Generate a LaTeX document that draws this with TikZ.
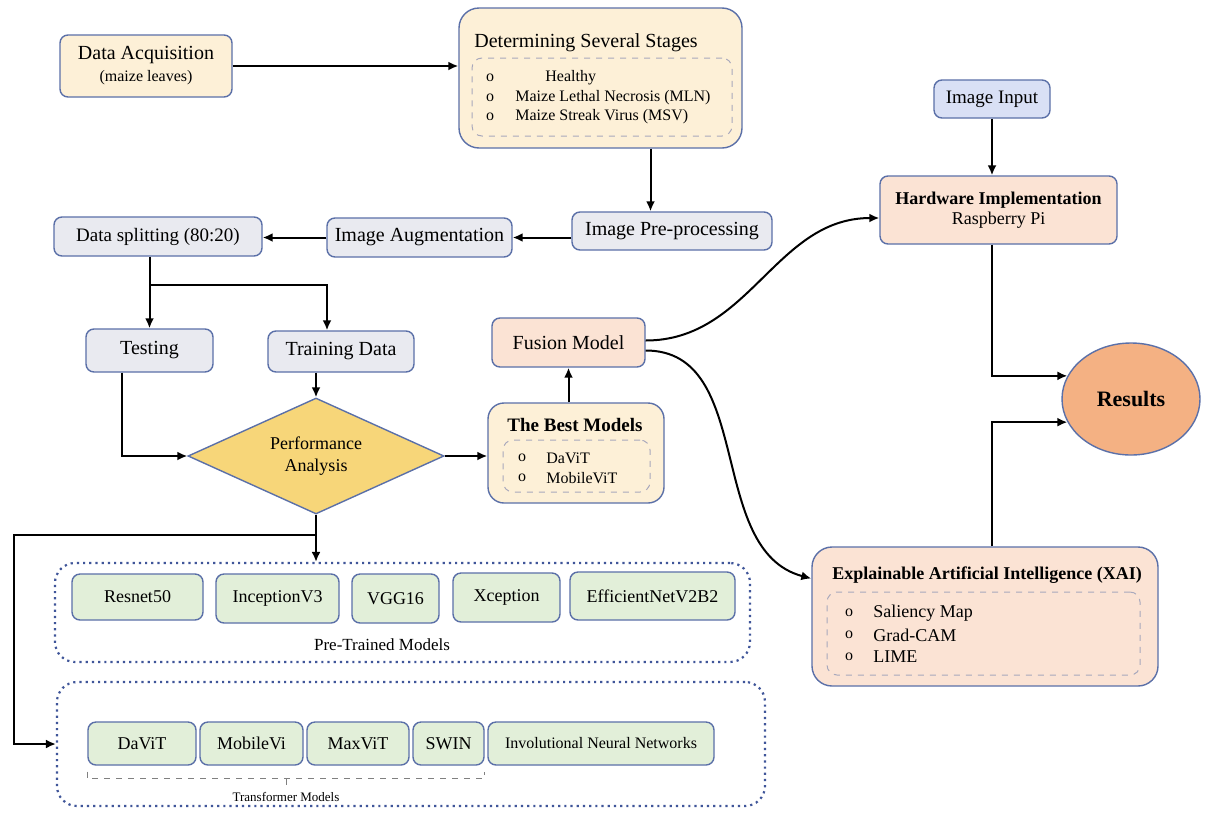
\documentclass[tikz,border=0pt]{standalone}
\usepackage{fontspec}
\setmainfont{Liberation Serif}
\usetikzlibrary{arrows.meta,shapes.geometric,positioning}

\definecolor{edgeblue}{HTML}{5B70A8}
\definecolor{cream}{HTML}{FDF0D7}
\definecolor{greyblue}{HTML}{E9EAF0}
\definecolor{peach}{HTML}{FBE3D4}
\definecolor{gold}{HTML}{F7D679}
\definecolor{mint}{HTML}{E2EFD9}
\definecolor{lavender}{HTML}{D9E0F5}
\definecolor{resorange}{HTML}{F4B183}
\definecolor{dashgrey}{HTML}{A8A8BC}
\definecolor{dotblue}{HTML}{3F5599}

\tikzset{
  box/.style={draw=edgeblue, line width=0.7pt, rounded corners=4pt, inner sep=0pt, align=center, font=\fontsize{10}{12}\selectfont},
  creambox/.style={box, fill=cream},
  greybox/.style={box, fill=greyblue},
  peachbox/.style={box, fill=peach},
  modelbox/.style={box, fill=mint, font=\fontsize{9}{11}\selectfont},
  innerbox/.style={draw=dashgrey, dashed, line width=0.5pt, rounded corners=5pt},
  groupbox/.style={draw=dotblue, dotted, line width=1.1pt, rounded corners=10pt},
  listitem/.style={inner sep=0pt, font=\fontsize{8}{10}\selectfont},
  heading/.style={inner sep=0pt, font=\bfseries\fontsize{9}{11}\selectfont},
  arr/.style={line width=1pt, -{Latex[length=5pt,width=4.5pt]}},
}

\begin{document}
\begin{tikzpicture}[x=0.5pt, y=-0.5pt]
    \fill[white] (0,0) rectangle (1208,814);
    \useasboundingbox (0,0) rectangle (1208,814);

    % data and stages
    \node[creambox, minimum width=86pt, minimum height=31pt] (acq) at (146,66) {Data Acquisition\\[-1pt]{\fontsize{8}{10}\selectfont (maize leaves)}};
    \node[creambox, rounded corners=10pt, minimum width=141.5pt, minimum height=70pt] (stages) at (600.5,78) {};
    \node[inner sep=0pt, font=\fontsize{10}{12}\selectfont] (stagestitle) at (586,43) {Determining Several Stages};
    \node[innerbox, minimum width=130pt, minimum height=39pt] (stagelist) at (602,97) {};
    \node[listitem] (sb1) at (490,78) {o};
    \node[listitem] (sb2) at (490,98) {o};
    \node[listitem] (sb3) at (490,117) {o};
    \node[listitem, anchor=west] (st1) at (545,78) {Healthy};
    \node[listitem, anchor=west] (st2) at (515,98) {Maize Lethal Necrosis (MLN)};
    \node[listitem, anchor=west] (st3) at (515,117) {Maize Streak Virus (MSV)};

    % preprocessing chain
    \node[greybox, minimum width=100pt, minimum height=19pt] (imgpre) at (672,231) {Image Pre-processing};
    \node[greybox, minimum width=92.5pt, minimum height=19.5pt] (imgaug) at (419.5,237.5) {Image Augmentation};
    \node[greybox, minimum width=104pt, minimum height=19.5pt, font=\fontsize{9.5}{11}\selectfont] (split) at (158,236.5) {Data splitting (80:20)};
    \node[greybox, minimum width=63.5pt, minimum height=21.5pt] (testing) at (149.5,350.5) {Testing};
    \node[greybox, minimum width=73pt, minimum height=20.5pt] (training) at (341,351.5) {Training Data};
    \coordinate (fork) at (150,285);

    % analysis
    \node[diamond, draw=edgeblue, fill=gold, line width=0.7pt, aspect=2.2, inner sep=0pt, minimum width=128pt, minimum height=58pt, align=center, font=\fontsize{9}{11}\selectfont] (perf) at (316,456) {Performance\\Analysis};
    \node[creambox, rounded corners=8pt, minimum width=88pt, minimum height=50pt] (best) at (576,453) {};
    \node[heading, font=\bfseries\fontsize{9.5}{11}\selectfont] (besttitle) at (575,425) {The Best Models};
    \node[innerbox, minimum width=73.5pt, minimum height=26pt] (bestlist) at (576.5,466) {};
    \node[listitem] (bb1) at (522,458) {o};
    \node[listitem] (bb2) at (522,478) {o};
    \node[listitem, anchor=west] (bt1) at (546,458) {DaViT};
    \node[listitem, anchor=west] (bt2) at (546,478) {MobileViT};
    \node[peachbox, minimum width=76.5pt, minimum height=24.5pt] (fusion) at (568.5,342.5) {Fusion Model};

    % right side
    \node[box, fill=lavender, minimum width=58pt, minimum height=19pt, font=\fontsize{9.5}{11}\selectfont] (imginput) at (992,99) {Image Input};
    \node[peachbox, minimum width=118.5pt, minimum height=34pt, font=\fontsize{9}{11}\selectfont] (hw) at (998.5,210) {\textbf{Hardware Implementation}\\[-1pt]Raspberry Pi};
    \node[ellipse, draw=edgeblue, fill=resorange, line width=0.7pt, inner sep=0pt, minimum width=69pt, minimum height=56pt, font=\bfseries\fontsize{11}{13}\selectfont] (results) at (1131,399) {Results};
    \node[peachbox, rounded corners=10pt, minimum width=173pt, minimum height=69.5pt] (xai) at (985,616.5) {};
    \node[heading] (xaititle) at (987,575) {Explainable Artificial Intelligence (XAI)};
    \node[innerbox, minimum width=156.5pt, minimum height=41.5pt] (xailist) at (983.5,633.5) {};
    \node[listitem] (xb1) at (849,613) {o};
    \node[listitem] (xb2) at (849,635) {o};
    \node[listitem] (xb3) at (849,657) {o};
    \node[listitem, anchor=west, font=\fontsize{9}{11}\selectfont] (xt1) at (873,613) {Saliency Map};
    \node[listitem, anchor=west, font=\fontsize{9}{11}\selectfont] (xt2) at (873,635) {Grad-CAM};
    \node[listitem, anchor=west, font=\fontsize{9}{11}\selectfont] (xt3) at (873,657) {LIME};

    % pre-trained models
    \node[groupbox, minimum width=347.5pt, minimum height=49.5pt] (pre) at (402.5,612.5) {};
    \node[modelbox, minimum width=65.5pt, minimum height=23pt] (resnet) at (137.5,597) {Resnet50};
    \node[modelbox, minimum width=61.5pt, minimum height=24.5pt] (inception) at (277.5,598.5) {InceptionV3};
    \node[modelbox, minimum width=43.5pt, minimum height=24.5pt] (vgg) at (395.5,598.5) {VGG16};
    \node[modelbox, minimum width=53.5pt, minimum height=24.5pt] (xception) at (506.5,597.5) {Xception};
    \node[modelbox, minimum width=82.5pt, minimum height=24pt] (effnet) at (652.5,596) {EfficientNetV2B2};
    \node[inner sep=0pt, font=\fontsize{8.5}{10}\selectfont] (prelabel) at (382,645) {Pre-Trained Models};

    % transformer models
    \node[groupbox, minimum width=354pt, minimum height=62pt] (trans) at (411,744) {};
    \node[modelbox, minimum width=54pt, minimum height=21.5pt] (davit) at (142,743.5) {DaViT};
    \node[modelbox, minimum width=51.5pt, minimum height=21.5pt] (mobilevi) at (251.5,743.5) {MobileVi};
    \node[modelbox, minimum width=51pt, minimum height=21.5pt] (maxvit) at (358,743.5) {MaxViT};
    \node[modelbox, minimum width=35.5pt, minimum height=21.5pt] (swin) at (448.5,743.5) {SWIN};
    \node[modelbox, minimum width=113pt, minimum height=21.5pt, font=\fontsize{8}{10}\selectfont] (invol) at (601,743.5) {Involutional Neural Networks};
    \draw[dashed, gray, line width=0.5pt] ([yshift=-3pt]davit.south west) -- ++(0,-3.5pt) -| ([yshift=-3pt]swin.south east);
    \draw[gray, line width=0.4pt] (286,778) -- (286,785);
    \node[inner sep=0pt, font=\fontsize{6.5}{8}\selectfont] (translabel) at (286,797) {Transformer Models};
    \coordinate (branch) at (316,535);
    \coordinate (bend) at (14,535);

    % connectors
    \draw[arr] (acq.east) -- (acq.east -| stages.west);
    \draw[arr] ([xshift=25pt]stages.south) -- ([xshift=25pt]stages.south |- imgpre.north);
    \draw[arr] (imgpre.west |- imgaug.east) -- (imgaug.east);
    \draw[arr] (imgaug.west) -- (imgaug.west -| split.east);
    \draw[arr] (split.south -| testing.north) -- (testing.north);
    \draw[arr] (fork) -| ([xshift=-7pt]training.north);
    \draw[arr] ([xshift=-14pt]testing.south) |- (perf.west);
    \draw[arr] (training.south -| perf.north) -- (perf.north);
    \draw[arr] (perf.east) -- (perf.east -| best.west);
    \draw[arr] (best.north -| fusion.south) -- (fusion.south);
    \draw[arr] ([yshift=1pt]fusion.east) .. controls +(104,0) and +(-104,0) .. ([yshift=-4pt]hw.west);
    \draw[arr] ([yshift=-4pt]fusion.east) .. controls +(110,0) and +(-106,-28) .. ([yshift=19pt]xai.west);
    \draw[arr] (imginput.south) -- (imginput.south |- hw.north);
    \draw[arr] (hw.south -| imginput.south) |- (results.160);
    \draw[arr] (xai.north -| imginput.south) |- (results.200);
    \draw[arr] (perf.south) -- (perf.south |- pre.north);
    \draw[arr] (branch) -- (bend) |- (trans.west);
\end{tikzpicture}
\end{document}
